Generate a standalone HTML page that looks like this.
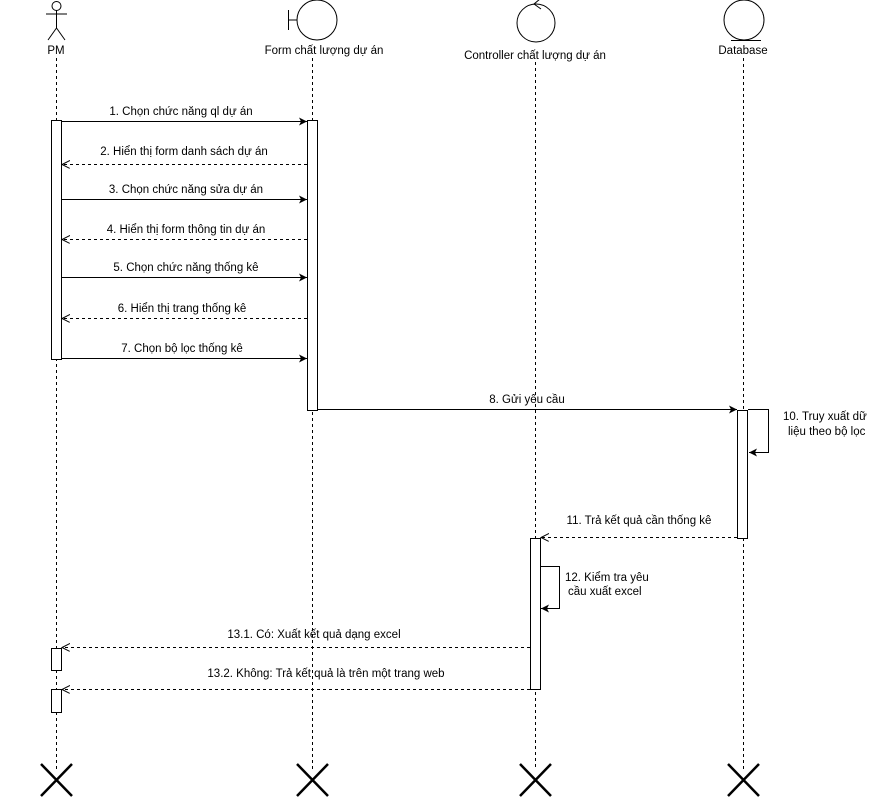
<!DOCTYPE html>
<html><head><meta charset="utf-8"><style>
html,body{margin:0;padding:0;background:#fff;}
svg{display:block;}
text{font-family:"Liberation Sans",sans-serif;font-size:11.5px;fill:#000;}
</style></head><body>
<svg width="877" height="797" viewBox="0 0 877 797" xmlns="http://www.w3.org/2000/svg">
<defs>
<marker id="fa" markerWidth="10" markerHeight="10" refX="8" refY="4" orient="auto" markerUnits="userSpaceOnUse"><path d="M0,0 L8,4 L0,8 L2,4 Z" fill="#000"/></marker>
<marker id="oa" markerWidth="10" markerHeight="10" refX="8" refY="4" orient="auto" markerUnits="userSpaceOnUse"><path d="M0,0 L8,4 L0,8" fill="none" stroke="#000"/></marker>
</defs>
<g stroke="#000" stroke-width="1" fill="none" stroke-dasharray="3,3">
<line x1="56.5" y1="58" x2="56.5" y2="770"/>
<line x1="312.5" y1="58" x2="312.5" y2="770"/>
<line x1="535.5" y1="62" x2="535.5" y2="770"/>
<line x1="743.5" y1="58" x2="743.5" y2="770"/>
</g>
<g stroke="#000" fill="#fff">
<circle cx="56.5" cy="6" r="4.5"/>
<line x1="56.5" y1="10.5" x2="56.5" y2="28"/>
<line x1="46" y1="14" x2="67" y2="14"/>
<line x1="56.5" y1="28" x2="48" y2="40"/>
<line x1="56.5" y1="28" x2="65" y2="40"/>
</g>
<g stroke="#000" fill="#fff">
<circle cx="317" cy="20" r="20"/>
<line x1="288.5" y1="10" x2="288.5" y2="30"/>
<line x1="288.5" y1="20" x2="297" y2="20"/>
</g>
<g stroke="#000" fill="#fff">
<circle cx="536" cy="23" r="19"/>
<path d="M540,-1 L534,4 L541,9" fill="none"/>
</g>
<g stroke="#000" fill="#fff">
<circle cx="744" cy="20" r="20"/>
<line x1="731" y1="40.5" x2="761" y2="40.5"/>
</g>
<text x="56" y="54" text-anchor="middle">PM</text>
<text x="324" y="54" text-anchor="middle">Form chất lượng dự án</text>
<text x="535" y="59" text-anchor="middle">Controller chất lượng dự án</text>
<text x="743" y="54" text-anchor="middle">Database</text>
<g stroke="#000" fill="#fff">
<rect x="51.5" y="120.5" width="10" height="239"/>
<rect x="307.5" y="120.5" width="10" height="290"/>
<rect x="737.5" y="410.5" width="10" height="128"/>
<rect x="530.5" y="538.5" width="10" height="151"/>
<rect x="51.5" y="648.5" width="10" height="22"/>
<rect x="51.5" y="689.5" width="10" height="23"/>
</g>
<g stroke="#000" fill="none">
<line x1="61" y1="121.5" x2="307" y2="121.5" marker-end="url(#fa)"/>
<line x1="307" y1="164.5" x2="62" y2="164.5" stroke-dasharray="3,3" marker-end="url(#oa)"/>
<line x1="61" y1="199.5" x2="307" y2="199.5" marker-end="url(#fa)"/>
<line x1="307" y1="239.5" x2="62" y2="239.5" stroke-dasharray="3,3" marker-end="url(#oa)"/>
<line x1="61" y1="277.5" x2="307" y2="277.5" marker-end="url(#fa)"/>
<line x1="307" y1="318.5" x2="62" y2="318.5" stroke-dasharray="3,3" marker-end="url(#oa)"/>
<line x1="61" y1="358.5" x2="307" y2="358.5" marker-end="url(#fa)"/>
<line x1="317" y1="409.5" x2="737" y2="409.5" marker-end="url(#fa)"/>
<polyline points="748,409.5 768.5,409.5 768.5,452.5 749,452.5" marker-end="url(#fa)"/>
<line x1="737" y1="537.5" x2="541" y2="537.5" stroke-dasharray="3,3" marker-end="url(#oa)"/>
<polyline points="541,566.5 559.5,566.5 559.5,608.5 541,608.5" marker-end="url(#fa)"/>
<line x1="530" y1="647.5" x2="62" y2="647.5" stroke-dasharray="3,3" marker-end="url(#oa)"/>
<line x1="530" y1="689.5" x2="62" y2="689.5" stroke-dasharray="3,3" marker-end="url(#oa)"/>
</g>
<text x="181" y="115" text-anchor="middle">1. Chọn chức năng ql dự án</text>
<text x="184" y="155" text-anchor="middle">2. Hiển thị form danh sách dự án</text>
<text x="186" y="193" text-anchor="middle">3. Chọn chức năng sửa dự án</text>
<text x="186" y="233" text-anchor="middle">4. Hiển thị form thông tin dự án</text>
<text x="186" y="271" text-anchor="middle">5. Chọn chức năng thống kê</text>
<text x="182" y="312" text-anchor="middle">6. Hiển thị trang thống kê</text>
<text x="182" y="352" text-anchor="middle">7. Chọn bộ lọc thống kê</text>
<text x="527" y="403" text-anchor="middle">8. Gửi yêu cầu</text>
<text x="783" y="420">10. Truy xuất dữ</text>
<text x="788" y="435">liệu theo bộ lọc</text>
<text x="639" y="524" text-anchor="middle">11. Trả kết quả cần thống kê</text>
<text x="565" y="581">12. Kiểm tra yêu</text>
<text x="568" y="595">cầu xuất excel</text>
<text x="314" y="638" text-anchor="middle">13.1. Có: Xuất kết quả dạng excel</text>
<text x="326" y="677" text-anchor="middle">13.2. Không: Trả kết quả là trên một trang web</text>
<g stroke="#000" stroke-width="2.5">
<path d="M41,764 L72,796 M72,764 L41,796"/>
<path d="M297,764 L328,796 M328,764 L297,796"/>
<path d="M520,764 L551,796 M551,764 L520,796"/>
<path d="M728,764 L759,796 M759,764 L728,796"/>
</g>
</svg>
</body></html>
